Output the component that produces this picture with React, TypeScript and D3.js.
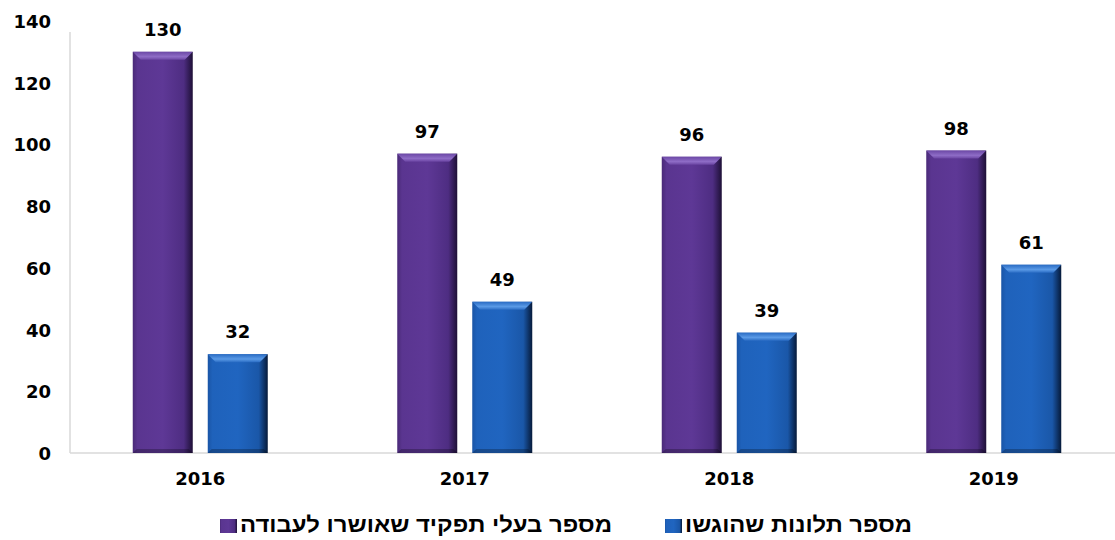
import React from "react";
import * as d3 from "d3";

const years = ["2016", "2017", "2018", "2019"];
const approved = [130, 97, 96, 98];
const complaints = [32, 49, 39, 61];
const yTicks = [0, 20, 40, 60, 80, 100, 120, 140];
const seriesNames = ["מספר בעלי תפקיד שאושרו לעבודה", "מספר תלונות שהוגשו"];

const W = 1115;
const H = 540;
const NUMFONT = "'DejaVu Sans', sans-serif";
const HEBFONT = "'Liberation Sans', 'DejaVu Sans', sans-serif";

export default function App() {
  const x0 = d3.scaleBand<string>().domain(years).range([68, 1126]).paddingInner(0).paddingOuter(0);
  const y = d3.scaleLinear().domain([0, 140]).range([453, 21]);
  const barW = 60;
  const gap = 15;

  const series = [
    { name: seriesNames[0], values: approved, grad: "gP", offset: -(barW + gap / 2) },
    { name: seriesNames[1], values: complaints, grad: "gB", offset: gap / 2 },
  ];

  return (
    <svg width={W} height={H} style={{ position: "absolute", left: 0, top: 0, background: "#fff" }}>
      <defs>
        <linearGradient id="gP" x1="0" x2="1" y1="0" y2="0">
          <stop offset="0" stopColor="#4a2a78" />
          <stop offset="0.08" stopColor="#5a3590" />
          <stop offset="0.5" stopColor="#5e3896" />
          <stop offset="0.85" stopColor="#4e2d82" />
          <stop offset="1" stopColor="#1e1036" />
        </linearGradient>
        <linearGradient id="gB" x1="0" x2="1" y1="0" y2="0">
          <stop offset="0" stopColor="#1a55a6" />
          <stop offset="0.08" stopColor="#1f62bb" />
          <stop offset="0.5" stopColor="#2065c0" />
          <stop offset="0.85" stopColor="#1a57a8" />
          <stop offset="1" stopColor="#061a3a" />
        </linearGradient>
        <linearGradient id="gTopP" x1="0" x2="0" y1="0" y2="1">
          <stop offset="0" stopColor="#6c48a6" />
          <stop offset="0.6" stopColor="#8e6cc6" />
          <stop offset="1" stopColor="#6a44a2" />
        </linearGradient>
        <linearGradient id="gTopB" x1="0" x2="0" y1="0" y2="1">
          <stop offset="0" stopColor="#2a6cc4" />
          <stop offset="0.6" stopColor="#5a9ae6" />
          <stop offset="1" stopColor="#2a6cc4" />
        </linearGradient>
      </defs>

      {/* axes */}
      <line x1={70} x2={70} y1={32} y2={453} stroke="#d9d9d9" strokeWidth={1.5} />
      <line x1={70} x2={W} y1={453} y2={453} stroke="#d9d9d9" strokeWidth={1.5} />

      {yTicks.map((t) => (
        <text key={t} x={51} y={y(t) + 2} textAnchor="end" dominantBaseline="middle"
          fontFamily={NUMFONT} fontWeight="bold" fontSize={18} fill="#000">{t}</text>
      ))}

      {years.map((yr) => (
        <text key={yr} x={(x0(yr) as number) + x0.bandwidth() / 2} y={480} textAnchor="middle"
          dominantBaseline="middle" fontFamily={NUMFONT} fontWeight="bold" fontSize={18} fill="#000">{yr}</text>
      ))}

      {series.map((s, si) =>
        years.map((yr, i) => {
          const cx = (x0(yr) as number) + x0.bandwidth() / 2;
          const bx = cx + s.offset;
          const by = y(s.values[i]);
          const bh = y(0) - by;
          const bev = 8;
          return (
            <g key={si + yr}>
              <rect x={bx} y={by} width={barW} height={bh} fill={`url(#${s.grad})`} />
              <polygon
                points={`${bx},${by} ${bx + barW},${by} ${bx + barW - bev},${by + bev} ${bx + bev},${by + bev}`}
                fill={si === 0 ? "url(#gTopP)" : "url(#gTopB)"} />
              <polygon
                points={`${bx},${by + bh} ${bx + barW},${by + bh} ${bx + barW - 4},${by + bh - 4} ${bx + 4},${by + bh - 4}`}
                fill="#000" opacity={0.25} />
              <text x={bx + barW / 2} y={by - 21} textAnchor="middle" dominantBaseline="middle"
                fontFamily={NUMFONT} fontWeight="bold" fontSize={18} fill="#000">{s.values[i]}</text>
            </g>
          );
        })
      )}

      {/* legend */}
      <rect x={220} y={519} width={17} height={14} fill="url(#gP)" />
      <text x={612} y={526} textAnchor="end" dominantBaseline="middle" fontFamily={HEBFONT}
        fontWeight="bold" fontSize={22} fill="#000" textLength={372} lengthAdjust="spacingAndGlyphs">{seriesNames[0]}</text>
      <rect x={665} y={519} width={17} height={14} fill="url(#gB)" />
      <text x={912} y={526} textAnchor="end" dominantBaseline="middle" fontFamily={HEBFONT}
        fontWeight="bold" fontSize={22} fill="#000" textLength={227} lengthAdjust="spacingAndGlyphs">{seriesNames[1]}</text>
    </svg>
  );
}
